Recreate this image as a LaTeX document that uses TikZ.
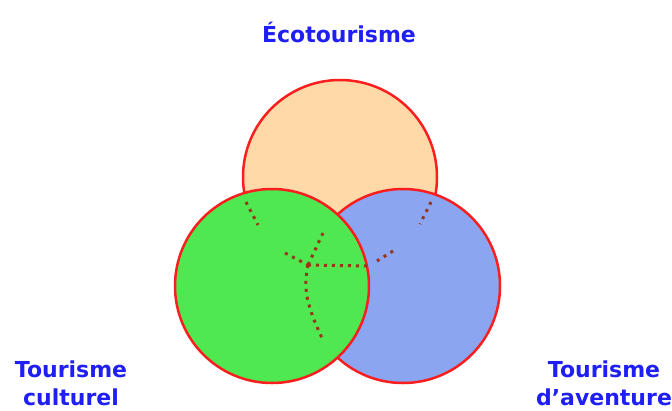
\documentclass[tikz,border=0pt]{standalone}
\usepackage{fontspec}
\setmainfont{DejaVu Sans}
\definecolor{labelblue}{RGB}{30,30,245}
\definecolor{ringred}{RGB}{250,30,30}
\definecolor{ecofill}{RGB}{255,218,168}
\definecolor{culfill}{RGB}{80,232,80}
\definecolor{advfill}{RGB}{140,165,240}
\definecolor{dotbrown}{RGB}{150,55,25}
\begin{document}
\begin{tikzpicture}[x=1pt,y=-1pt,
  ring/.style={draw=ringred,line width=2.5pt},
  lbl/.style={text=labelblue,font=\bfseries\fontsize{22}{28}\selectfont,inner sep=0pt,align=center},
  hid/.style={draw=dotbrown,line width=3pt,dash pattern=on 3pt off 5pt}]
\useasboundingbox (0,0) rectangle (672,410);
\node[ring,fill=ecofill,circle,minimum size=194pt,inner sep=0pt] (eco) at (340,177) {};
\node[ring,fill=advfill,circle,minimum size=194pt,inner sep=0pt] (adv) at (403,286) {};
\node[ring,fill=culfill,circle,minimum size=194pt,inner sep=0pt] (cul) at (272,286) {};
\coordinate (j) at (308,265);
\coordinate (a1) at (246,202); \coordinate (a2) at (258,225);
\coordinate (b1) at (323,233);
\coordinate (c1) at (285,253);
\coordinate (d1) at (368,266);
\coordinate (e3) at (322,338);
\coordinate (f1) at (431,202); \coordinate (f2) at (420,224);
\coordinate (g1) at (393,251); \coordinate (g2) at (377,261);
\draw[hid] (a1) -- (a2);
\draw[hid] (b1) -- (j);
\draw[hid] (c1) -- (j);
\draw[hid] (j) -- (d1);
\draw[hid] (j) .. controls (304,285) and (304,300) .. (e3);
\draw[hid] (f1) -- (f2);
\draw[hid] (g1) -- (g2);
\node[lbl,anchor=base] (teco) at (339,42) {Écotourisme};
\node[lbl,anchor=base] (tcul) at (71,405) {Tourisme\\culturel};
\node[lbl,anchor=base] (tadv) at (604,405) {Tourisme\\d’aventure};
\end{tikzpicture}
\end{document}
